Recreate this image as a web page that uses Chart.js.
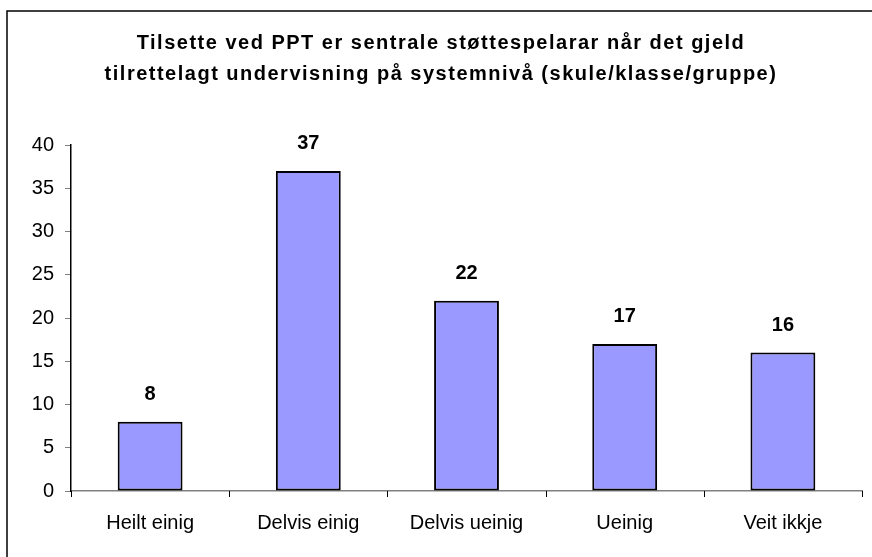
<!DOCTYPE html>
<html><head><meta charset="utf-8">
<script src="https://cdn.jsdelivr.net/npm/chart.js@4/dist/chart.umd.min.js"></script>
<style>html,body{margin:0;padding:0;background:#fff}#wrap{width:872px;height:557px;position:relative}</style>
</head><body><div id="wrap"><canvas id="c" width="872" height="557"></canvas></div>
<script>
const categories = ["Heilt einig", "Delvis einig", "Delvis ueinig", "Ueinig", "Veit ikkje"];
const values = [8, 37, 22, 17, 16];
const titleLines = ["Tilsette ved PPT er sentrale støttespelarar når det gjeld", "tilrettelagt undervisning på systemnivå (skule/klasse/gruppe)"];
const yTicks = [0, 5, 10, 15, 20, 25, 30, 35, 40];

const FONT = "'Liberation Sans', Arial, sans-serif";

const decor = {
  id: 'decor',
  beforeDraw(chart) {
    const ctx = chart.ctx;
    ctx.save();
    ctx.fillStyle = '#fff';
    ctx.fillRect(0, 0, chart.width, chart.height);
    ctx.strokeStyle = '#000';
    ctx.lineWidth = 1.5;
    ctx.strokeRect(7, 11, chart.width + 20, chart.height + 20);
    ctx.fillStyle = '#000';
    ctx.font = "bold 20px " + FONT;
    if ('letterSpacing' in ctx) ctx.letterSpacing = '1.5px';
    ctx.textAlign = 'center';
    ctx.textBaseline = 'alphabetic';
    ctx.fillText(titleLines[0], 441, 49);
    ctx.fillText(titleLines[1], 441, 80);
    ctx.restore();
  },
  afterDatasetsDraw(chart) {
    const ctx = chart.ctx;
    const meta = chart.getDatasetMeta(0);
    ctx.save();
    ctx.fillStyle = '#000';
    ctx.font = "bold 20px " + FONT;
    ctx.textAlign = 'center';
    ctx.textBaseline = 'middle';
    meta.data.forEach((bar, i) => {
      ctx.fillText(String(values[i]), bar.x, bar.y - 27);
    });
    const area = chart.chartArea;
    ctx.strokeStyle = '#000';
    ctx.lineWidth = 1;
    for (let i = 0; i <= categories.length; i++) {
      const x = Math.round(area.left + (area.right - area.left) * i / categories.length) + 0.5;
      ctx.beginPath();
      ctx.moveTo(x, area.bottom);
      ctx.lineTo(x, area.bottom + 6);
      ctx.stroke();
    }
    ctx.restore();
  }
};

new Chart(document.getElementById('c'), {
  type: 'bar',
  data: {
    labels: categories,
    datasets: [{
      data: values,
      backgroundColor: '#9999FF',
      borderColor: '#000',
      borderWidth: 2,
      borderSkipped: false,
      barPercentage: 0.41,
      categoryPercentage: 1.0
    }]
  },
  options: {
    responsive: false,
    animation: false,
    devicePixelRatio: 1,
    layout: { padding: { left: 0, top: 145, right: 10, bottom: 0 } },
    plugins: { legend: { display: false }, title: { display: false }, tooltip: { enabled: false } },
    scales: {
      x: {
        grid: { display: false, drawTicks: false },
        border: { display: true, color: '#808080', width: 1.5 },
        ticks: { color: '#000', font: { family: FONT, size: 20 }, padding: 20, maxRotation: 0, autoSkip: false },
        afterFit(s) { s.height = 66; }
      },
      y: {
        min: 0, max: 40,
        afterBuildTicks(s) { s.ticks = yTicks.map(v => ({ value: v })); },
        grid: { display: true, drawOnChartArea: false, drawTicks: true, tickLength: 6, color: '#808080', tickWidth: 1 },
        border: { display: true, color: '#000', width: 1.5 },
        ticks: { color: '#000', font: { family: FONT, size: 20 }, padding: 11 },
        afterFit(s) { s.width = 71; }
      }
    }
  },
  plugins: [decor]
});
</script>
</body></html>
